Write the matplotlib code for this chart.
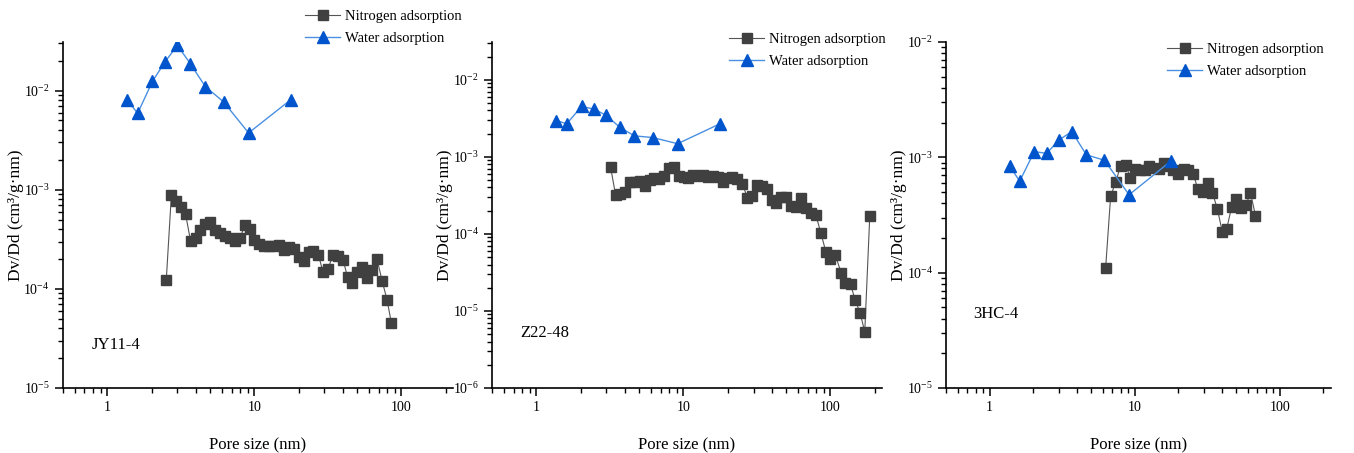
import matplotlib
matplotlib.use('Agg')
import matplotlib.pyplot as plt
from matplotlib.ticker import LogLocator, NullFormatter, FuncFormatter
import math

plt.rcParams['font.family'] = ['Liberation Serif', 'DejaVu Serif']
plt.rcParams['mathtext.fontset'] = 'custom'
plt.rcParams['mathtext.rm'] = 'Liberation Serif'
plt.rcParams['mathtext.it'] = 'Liberation Serif:italic'

# water adsorption pore sizes (same for all samples)
water_x = [1.37, 1.61, 2.03, 2.47, 3.0, 3.68, 4.64, 6.18, 9.14, 17.7]

# JY11-4
jy_water = [0.0080, 0.0059, 0.0124, 0.0195, 0.0286, 0.0186, 0.0110, 0.0077, 0.00374, 0.0081]
jy_n2_x = [2.52, 2.73, 2.93, 3.15, 3.41, 3.69, 3.99, 4.29, 4.64, 5.02, 5.40, 5.84,
           6.32, 6.83, 7.39, 7.99, 8.60, 9.30, 10.0, 10.8, 11.7, 12.6, 13.7, 14.7,
           15.9, 17.2, 18.5, 20.0, 21.7, 23.4, 25.2, 27.3, 29.3, 31.7, 34.3, 37.1,
           40.1, 43.1, 46.4, 50.2, 54.3, 58.7, 63.5, 68.3, 73.9, 79.9, 85.5]
jy_n2_y = [1.23e-4, 8.9e-4, 7.74e-4, 6.73e-4, 5.68e-4, 3.01e-4, 3.25e-4, 3.88e-4,
           4.50e-4, 4.71e-4, 3.95e-4, 3.65e-4, 3.43e-4, 3.25e-4, 3.01e-4, 3.25e-4,
           4.36e-4, 4.04e-4, 3.08e-4, 2.83e-4, 2.68e-4, 2.70e-4, 2.70e-4, 2.74e-4,
           2.48e-4, 2.64e-4, 2.55e-4, 2.09e-4, 1.93e-4, 2.38e-4, 2.42e-4, 2.21e-4,
           1.47e-4, 1.59e-4, 2.21e-4, 2.15e-4, 1.96e-4, 1.31e-4, 1.14e-4, 1.47e-4,
           1.68e-4, 1.30e-4, 1.56e-4, 1.99e-4, 1.21e-4, 7.74e-5, 4.50e-5]

# Z22-48
z22_water = [0.00296, 0.00268, 0.00451, 0.00416, 0.00344, 0.00243, 0.00187, 0.00178, 0.00148, 0.00268]
z22_n2_x = [3.20, 3.46, 3.73, 4.01, 4.36, 4.69, 5.05, 5.46, 5.90, 6.35, 6.87, 7.39,
            7.99, 8.64, 9.30, 10.05, 10.8, 11.7, 12.6, 13.6, 14.7, 15.8, 17.1, 18.5,
            19.9, 21.5, 23.3, 25.2, 27.2, 29.3, 31.7, 34.1, 36.9, 39.9, 42.9, 46.4,
            50.2, 54.0, 58.4, 63.1, 67.9, 73.5, 79.4, 85.9, 92.9, 100, 108, 118,
            126, 137, 147, 159, 171, 185]
z22_n2_y = [7.34e-4, 3.18e-4, 3.31e-4, 3.47e-4, 4.78e-4, 4.78e-4, 4.88e-4, 4.12e-4,
            4.93e-4, 5.24e-4, 5.13e-4, 5.67e-4, 7.19e-4, 7.34e-4, 5.67e-4, 5.40e-4,
            5.34e-4, 5.73e-4, 5.67e-4, 5.84e-4, 5.45e-4, 5.67e-4, 5.45e-4, 4.78e-4,
            5.28e-4, 5.40e-4, 5.13e-4, 4.46e-4, 2.96e-4, 3.12e-4, 4.25e-4, 4.12e-4,
            3.84e-4, 2.77e-4, 2.50e-4, 2.99e-4, 3.05e-4, 2.31e-4, 2.20e-4, 2.96e-4,
            2.15e-4, 1.85e-4, 1.77e-4, 1.04e-4, 5.90e-5, 4.69e-5, 5.28e-5, 3.15e-5,
            2.29e-5, 2.22e-5, 1.39e-5, 9.5e-6, 5.33e-6, 1.71e-4]

# 3HC-4
hc_water = [8.41e-4, 6.21e-4, 1.12e-3, 1.08e-3, 1.41e-3, 1.67e-3, 1.05e-3, 9.42e-4, 4.73e-4, 9.24e-4]
hc_n2_x = [6.30, 6.82, 7.38, 7.99, 8.65, 9.31, 10.1, 10.9, 11.7, 12.6, 13.7, 14.8,
           15.9, 17.3, 18.5, 20.0, 21.7, 23.4, 25.4, 27.2, 29.4, 31.8, 34.3, 37.1,
           40.2, 43.0, 46.5, 50.1, 54.2, 58.4, 62.8, 68.0]
hc_n2_y = [1.10e-4, 4.58e-4, 6.08e-4, 8.41e-4, 8.64e-4, 6.64e-4, 7.98e-4, 7.83e-4,
           7.73e-4, 8.41e-4, 8.15e-4, 7.98e-4, 9.0e-4, 8.41e-4, 7.73e-4, 7.23e-4,
           7.98e-4, 7.83e-4, 7.13e-4, 5.30e-4, 4.99e-4, 5.93e-4, 4.93e-4, 3.59e-4,
           2.24e-4, 2.38e-4, 3.68e-4, 4.35e-4, 3.61e-4, 3.85e-4, 4.93e-4, 3.12e-4]

samples = ['JY11-4', 'Z22-48', '3HC-4']
ylims = [(1e-5, 3.1e-2), (1e-6, 3.1e-2), (1e-5, 1e-2)]

fig = plt.figure(figsize=(13.54, 4.53), dpi=100)
boxes = [(0.0465, 0.1435, 0.288, 0.764),
         (0.3634, 0.1435, 0.288, 0.764),
         (0.6987, 0.1435, 0.284, 0.764)]
label_pos = [(0.074, 0.124), (0.072, 0.159), (0.07, 0.214)]
leg_pos = [(305 / 1354, 1 - 10 / 453), (729 / 1354, 1 - 33 / 453), (1167 / 1354, 1 - 43 / 453)]

data = [(jy_n2_x, jy_n2_y, jy_water), (z22_n2_x, z22_n2_y, z22_water), (hc_n2_x, hc_n2_y, hc_water)]

def pow_fmt(v, pos):
    e = int(round(math.log10(v)))
    return '10$^{%d}$' % e

for i, (nx, ny, wy) in enumerate(data):
    ax = fig.add_axes(boxes[i])
    l1, = ax.plot(nx, ny, color='#555555', lw=0.8, marker='s', ms=6.5,
                  mfc='#404040', mec='#404040', label='Nitrogen adsorption')
    l2, = ax.plot(water_x, wy, color='#4a90e2', lw=1.0, marker='^', ms=8,
                  mfc='#0055cc', mec='#0055cc', label='Water adsorption')
    ax.set_xscale('log')
    ax.set_yscale('log')
    ax.set_xlim(0.5, 224)
    ax.set_ylim(*ylims[i])
    ax.spines['top'].set_visible(False)
    ax.spines['right'].set_visible(False)
    for s in ['left', 'bottom']:
        ax.spines[s].set_linewidth(1.2)
    ax.xaxis.set_major_locator(LogLocator(base=10, numticks=10))
    ax.xaxis.set_minor_locator(LogLocator(base=10, subs=range(2, 10), numticks=20))
    ax.xaxis.set_minor_formatter(NullFormatter())
    ax.xaxis.set_major_formatter(FuncFormatter(lambda v, p: '%g' % v))
    ax.yaxis.set_major_locator(LogLocator(base=10, numticks=10))
    ax.yaxis.set_minor_locator(LogLocator(base=10, subs=range(2, 10), numticks=20))
    ax.yaxis.set_minor_formatter(NullFormatter())
    ax.yaxis.set_major_formatter(FuncFormatter(pow_fmt))
    ax.tick_params(which='major', direction='out', length=6, width=1.1, labelsize=10)
    ax.tick_params(which='minor', direction='out', length=3.5, width=1.0)
    ax.set_xlabel('Pore size (nm)', fontsize=12)
    ax.set_ylabel('Dv/Dd (cm³/g·nm)', fontsize=12.5)
    ax.xaxis.set_label_coords(0.5, -0.142)
    ax.yaxis.set_label_coords(-0.101, 0.5)
    ax.text(label_pos[i][0], label_pos[i][1], samples[i], transform=ax.transAxes,
            fontsize=12, va='center', ha='left')
    fig.legend(handles=[l1, l2], loc='upper left', bbox_to_anchor=leg_pos[i],
               frameon=False, fontsize=10.5, handlelength=2.4, borderpad=0,
               borderaxespad=0, labelspacing=0.6, handletextpad=0.35)

plt.savefig('out.png', dpi=100)
